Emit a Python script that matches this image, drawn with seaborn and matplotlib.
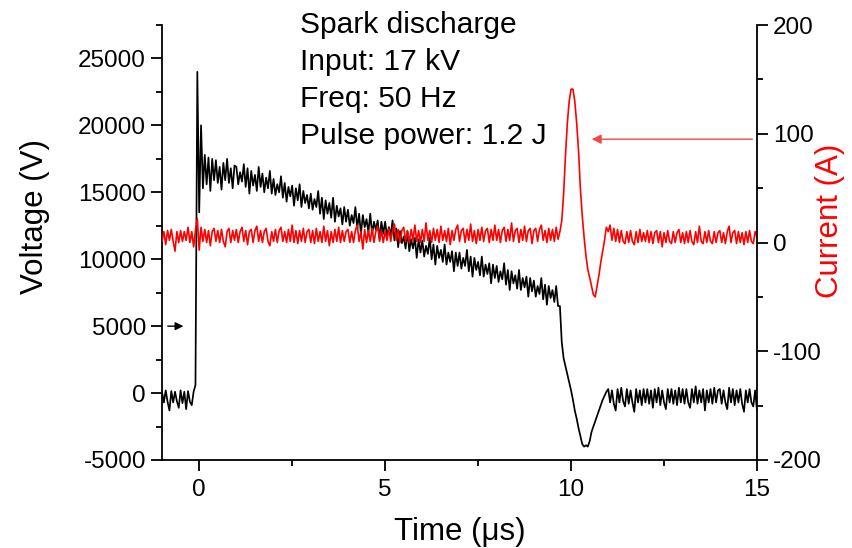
import numpy as np
import pandas as pd
import matplotlib
matplotlib.use("Agg")
import matplotlib.pyplot as plt
from matplotlib.ticker import MultipleLocator
import seaborn as sns

# Sampling grid of the oscilloscope traces (µs)
time_us = np.round(np.arange(-1.0, 15.0001, 0.05), 2)

# Voltage trace (V), one row per microsecond
voltage_V = [
    100, -700, 200, -650, -1300, 150, -700, 100, -600, -1100, 200, -750, 100, -1200, 150, -650, -900, 100, 600, 24000,
    13500, 20000, 15300, 17800, 15600, 17600, 15100, 17500, 15900, 17400, 15700, 16900, 15200, 17200, 15900, 17500, 15700, 16800, 15300, 17000,
    16900, 15600, 16500, 15800, 17100, 15400, 16800, 14900, 16600, 15500, 16300, 15100, 16900, 15400, 16400, 15000, 16100, 15300, 16600, 14900,
    16000, 14800, 15600, 15000, 16200, 14600, 15700, 14300, 15400, 14700, 15500, 14000, 15300, 14400, 15600, 13900, 15100, 14200, 14800, 13800,
    14900, 13700, 14500, 13900, 15100, 13400, 14600, 13000, 14400, 13400, 14200, 13100, 14600, 12800, 14000, 13200, 13800, 12600, 13900, 12800,
    13700, 12500, 13300, 12700, 13900, 12300, 13400, 11900, 13300, 12400, 13000, 12000, 13400, 11900, 12800, 12200, 12900, 11500, 12800, 11900,
    12800, 11700, 12400, 11800, 12900, 11400, 12300, 10900, 12100, 11200, 11700, 10800, 12100, 10600, 11500, 10800, 11600, 10100, 11500, 10500,
    11400, 10200, 11000, 10400, 11600, 10000, 11100, 9600, 11000, 10100, 10700, 9800, 11100, 9600, 10500, 9800, 10600, 9100, 10500, 9500,
    10500, 9300, 10100, 9500, 10700, 9100, 10200, 8700, 10100, 9200, 9800, 8800, 10200, 8700, 9600, 8900, 9700, 8200, 9600, 8600,
    9500, 8300, 9100, 8500, 9700, 8100, 9200, 7700, 9100, 8200, 8800, 7800, 9200, 7700, 8600, 7900, 8700, 7200, 8600, 7600,
    8400, 7200, 8000, 7400, 8600, 7000, 8100, 6600, 8000, 7100, 7700, 6800, 8000, 6500, 6500, 3800, 2600, 2000, 1400, 800,
    200, -500, -1300, -1900, -2600, -3200, -3800, -4000, -3900, -4000, -3600, -2900, -2500, -2100, -1700, -1300, -900, -500, -200, 100,
    300, -700, 200, -800, -1300, 300, -700, 400, -600, -1000, 300, -800, 200, -700, -1400, 300, -700, 200, -900, 300,
    -700, 300, -800, 200, -1100, 300, -700, 400, -900, 200, -700, -1200, 300, -700, 300, -800, 200, -900, 400, -700,
    300, -800, 300, -700, -1100, 300, -700, 500, -800, 200, -700, 300, -1300, 200, -700, 300, -800, 400, -700, 200,
    300, -800, 200, -700, -1200, 400, -700, 300, -900, 200, -700, 300, -800, -1400, 200, -700, 300, -700, -1000, 200,
    -1300,
]

# Current trace (A), one row per microsecond
current_A = [
    1, 10, -2, 11, 2, 12, 1, -8, 10, 0, 11, 1, 10, 2, 14, 0, 10, -4, 11, 22,
    -7, 14, 1, 12, 0, 11, -3, 10, 13, 1, 11, 0, 12, 1, -4, 10, 13, 0, 11, 2,
    12, 0, 10, 14, 1, 11, -2, 10, 12, 0, 11, 15, 1, 11, 0, 10, 13, 1, -3, 10,
    1, 12, 0, 11, 14, 1, 10, 0, 12, 1, 16, 0, 11, -1, 11, 1, 13, 0, 10, 12,
    0, 11, -1, 13, 1, 10, 0, 15, 1, 11, -3, 10, 0, 12, 1, 14, 0, 11, 1, 10,
    12, 0, 10, 0, 11, 16, 1, 10, -6, 12, 0, 11, 1, 13, 0, 10, 15, 1, 11, 0,
    10, 2, 13, 1, 11, 17, 2, 12, 0, 11, 14, 1, 11, 0, 12, 2, 16, 1, 11, 0,
    12, 1, 18, 2, 11, 0, 13, 2, 12, 0, 15, 2, 11, 1, 13, -2, 11, 2, 12, 16,
    1, 11, 13, 0, 12, 2, 17, 1, 11, -1, 12, 2, 14, 1, 11, 13, 0, 12, 2, 16,
    2, 12, 0, 11, 14, 1, 12, 2, 18, 1, 11, 13, 0, 12, 2, 15, 1, 11, 13, -1,
    11, 13, 1, 12, 16, 2, 11, 0, 13, 2, 12, 1, 14, 3, 10, 20, 45, 80, 110, 130,
    141, 141, 130, 110, 85, 50, 25, 5, -12, -25, -32, -40, -48, -50, -40, -30, -18, -8, 2, 14,
    10, 16, 2, 13, 1, 12, 0, 11, 1, -1, 10, 0, 11, 1, -2, 10, 0, 12, 1, 9,
    1, 11, 0, 10, -1, 9, 11, 0, 10, -4, 9, 0, 11, 1, -1, 10, 0, 9, 12, 0,
    9, -1, 10, 0, 11, 1, -2, 10, 0, 15, 1, -1, 10, 0, 11, 1, -1, 10, 0, 9,
    11, 0, 9, -1, 10, 15, 0, 9, 11, -1, 10, 0, 9, -2, 10, 0, 11, 1, -1, 10,
    5,
]

info_lines = ["Spark discharge", "Input: 17 kV", "Freq: 50 Hz", "Pulse power: 1.2 J"]

df = pd.DataFrame({"t": time_us, "V": voltage_V, "I": current_A})

sns.set_style("ticks")
plt.rcParams["font.family"] = ["Liberation Sans", "DejaVu Sans"]
plt.rcParams.update({
    "text.color": "black", "axes.labelcolor": "black", "axes.edgecolor": "black",
    "xtick.color": "black", "ytick.color": "black", "axes.unicode_minus": False,
})

fig = plt.figure(figsize=(8.52, 5.48), dpi=100)
ax = fig.add_axes([162 / 852, 1 - 460 / 548, 595 / 852, 435 / 548])
ax2 = ax.twinx()

sns.lineplot(data=df, x="t", y="V", ax=ax, color="black", lw=1.25, estimator=None, sort=False)
sns.lineplot(data=df, x="t", y="I", ax=ax2, color="#ff0000", lw=1.2, estimator=None, sort=False)

ax.set_xlim(-1, 15)
ax.set_ylim(-5000, 27500)
ax2.set_ylim(-200, 200)

ax.xaxis.set_major_locator(MultipleLocator(5))
ax.xaxis.set_minor_locator(MultipleLocator(2.5))
ax.yaxis.set_major_locator(MultipleLocator(5000))
ax.yaxis.set_minor_locator(MultipleLocator(2500))
ax2.yaxis.set_major_locator(MultipleLocator(100))
ax2.yaxis.set_minor_locator(MultipleLocator(50))

for a in (ax, ax2):
    a.spines["top"].set_visible(False)
    for s in a.spines.values():
        s.set_linewidth(1.3)
    a.tick_params(which="major", direction="out", length=8, width=1.3, labelsize=17.5, colors="black")
    a.tick_params(which="minor", direction="out", length=4.5, width=1.3)
ax.spines["right"].set_visible(False)
ax2.spines["left"].set_visible(False)
ax2.spines["bottom"].set_visible(False)
ax.tick_params(axis="x", pad=6)

ax.set_xlabel("Time (\u03bcs)", fontsize=22.5)
ax.set_ylabel("Voltage (V)", fontsize=22.5)
ax2.set_ylabel("Current (A)", fontsize=22.5, color="#ff0000")
ax.yaxis.set_label_coords(-0.188, 0.559)
ax2.yaxis.set_label_coords(1.097, 0.549)
ax.xaxis.set_label_coords(0.5, -0.13)

ax.annotate("", xy=(-0.35, 5000), xytext=(-0.92, 5000),
            arrowprops=dict(arrowstyle="-|>", color="black", lw=1.0, mutation_scale=12))
ax2.annotate("", xy=(10.48, 95), xytext=(14.95, 95),
            arrowprops=dict(arrowstyle="-|>", color="#f04848", lw=1.0, mutation_scale=14))

for i, line in enumerate(info_lines):
    fig.text(300 / 852, 1 - (33 + 37 * i) / 548, line, fontsize=21.6, va="baseline", ha="left")

fig.savefig("out.png", dpi=100)
